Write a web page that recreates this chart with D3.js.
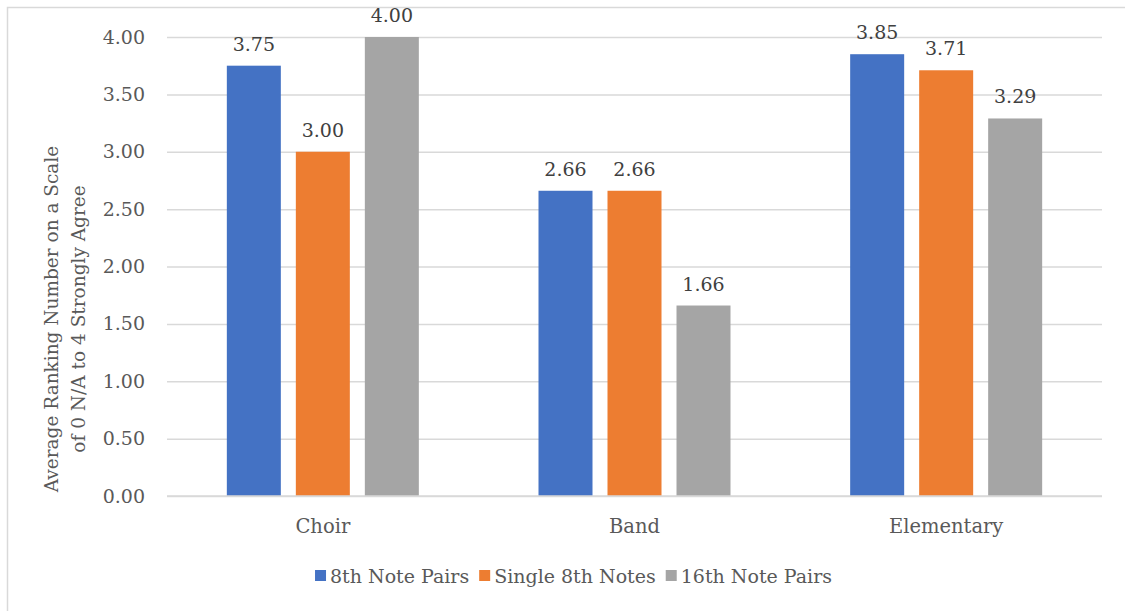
<!DOCTYPE html>
<html>
<head>
<meta charset="utf-8">
<script src="https://cdn.jsdelivr.net/npm/d3@7"></script>
<style>
  html, body { margin: 0; padding: 0; background: #fff; }
  svg { display: block; }
  svg text { font-family: 'DejaVu Serif', serif; }
</style>
</head>
<body>
<svg id="chart" width="1125" height="611"></svg>
<script>
// Ensembles along the x axis
const categories = ["Choir", "Band", "Elementary"];
// Rhythm patterns (one bar per ensemble)
const seriesNames = ["8th Note Pairs", "Single 8th Notes", "16th Note Pairs"];
const seriesColors = ["#4472C4", "#ED7D31", "#A5A5A5"];
// Average ranking for each pattern, in category order
const eighthPairs = [3.75, 2.66, 3.85];
const singleEighths = [3.00, 2.66, 3.71];
const sixteenthPairs = [4.00, 1.66, 3.29];
const yTicks = [0, 0.5, 1, 1.5, 2, 2.5, 3, 3.5, 4];
const yTitleLines = ["Average Ranking Number on a Scale", "of 0 N/A to 4 Strongly Agree"];

const seriesValues = [eighthPairs, singleEighths, sixteenthPairs];
const FONT = "'DejaVu Serif', serif";

const svg = d3.select("#chart");
const plot = { left: 167, right: 1102, top: 37, bottom: 496 };

// Outer chart frame
svg.append("rect")
  .attr("x", 7.5).attr("y", 7.5)
  .attr("width", 1300).attr("height", 800)
  .attr("fill", "none").attr("stroke", "#d9d9d9").attr("stroke-width", 1.5);

const y = d3.scaleLinear().domain([0, 4]).range([plot.bottom, plot.top]);
const x0 = d3.scaleBand().domain(categories).range([plot.left, plot.right]).padding(0);
const groupWidth = 192;
const x1 = d3.scaleBand().domain(seriesNames).range([0, groupWidth]).paddingInner(15 / 69).paddingOuter(0);

// Gridlines and value axis labels
const yAxis = d3.axisLeft(y).tickValues(yTicks).tickFormat(d3.format(".2f"))
  .tickSize(-(plot.right - plot.left)).tickPadding(22);
const gy = svg.append("g").attr("transform", `translate(${plot.left},0)`).call(yAxis)
  .attr("font-family", FONT).attr("font-size", "19px");
gy.select(".domain").remove();
gy.selectAll(".tick line").attr("stroke", "#d9d9d9").attr("stroke-width", 1.5);
gy.selectAll(".tick text").attr("fill", "#595959");

// Bars
const groups = svg.append("g").selectAll("g")
  .data(categories)
  .join("g")
  .attr("transform", c => `translate(${x0(c) + x0.bandwidth() / 2 - groupWidth / 2},0)`);

groups.selectAll("rect")
  .data((c, ci) => seriesNames.map((s, si) => ({ s, si, v: seriesValues[si][ci] })))
  .join("rect")
  .attr("x", d => x1(d.s))
  .attr("y", d => y(d.v))
  .attr("width", x1.bandwidth())
  .attr("height", d => y(0) - y(d.v))
  .attr("fill", d => seriesColors[d.si]);

// Value labels above bars
groups.selectAll("text.val")
  .data((c, ci) => seriesNames.map((s, si) => ({ s, si, v: seriesValues[si][ci] })))
  .join("text")
  .attr("class", "val")
  .attr("x", d => x1(d.s) + x1.bandwidth() / 2)
  .attr("y", d => y(d.v) - 15)
  .attr("text-anchor", "middle")
  .attr("fill", "#404040")
  .attr("font-size", "19px")
  .text(d => d.v.toFixed(2));

// Baseline
svg.append("line")
  .attr("x1", plot.left).attr("x2", plot.right)
  .attr("y1", y(0)).attr("y2", y(0))
  .attr("stroke", "#d9d9d9").attr("stroke-width", 1.5);

// Category axis labels
const xAxis = d3.axisBottom(x0).tickSize(0).tickPadding(0);
const gx = svg.append("g").attr("transform", `translate(0,${plot.bottom})`).call(xAxis)
  .attr("font-family", FONT).attr("font-size", "19.5px");
gx.select(".domain").remove();
gx.selectAll(".tick text").attr("dy", null).attr("y", 37).attr("fill", "#595959");

// Y axis title (two lines, rotated)
const title = svg.append("text")
  .attr("transform", "translate(58,319) rotate(-90)")
  .attr("text-anchor", "middle")
  .attr("fill", "#595959")
  .attr("font-size", "18.5px");
title.selectAll("tspan").data(yTitleLines).join("tspan")
  .attr("x", 0).attr("dy", (d, i) => i === 0 ? 0 : 27)
  .text(d => d);

// Legend: swatch + label per series, laid out in a row and centred
const legendCenter = 573.5;
const swatch = 11, swatchGap = 4, itemGap = 10;
const legend = svg.append("g");
const items = legend.selectAll("g").data(seriesNames).join("g");
items.append("rect").attr("y", 570).attr("width", swatch).attr("height", swatch)
  .attr("fill", (d, i) => seriesColors[i]);
items.append("text").attr("x", swatch + swatchGap).attr("y", 583)
  .attr("fill", "#595959").attr("font-size", "19px")
  .text(d => d);
let cursor = 0;
items.each(function () {
  const g = d3.select(this);
  g.attr("transform", `translate(${cursor},0)`);
  cursor += swatch + swatchGap + g.select("text").node().getComputedTextLength() + itemGap;
});
const legendWidth = cursor - itemGap;
legend.attr("transform", `translate(${legendCenter - legendWidth / 2},0)`);
</script>
</body>
</html>
